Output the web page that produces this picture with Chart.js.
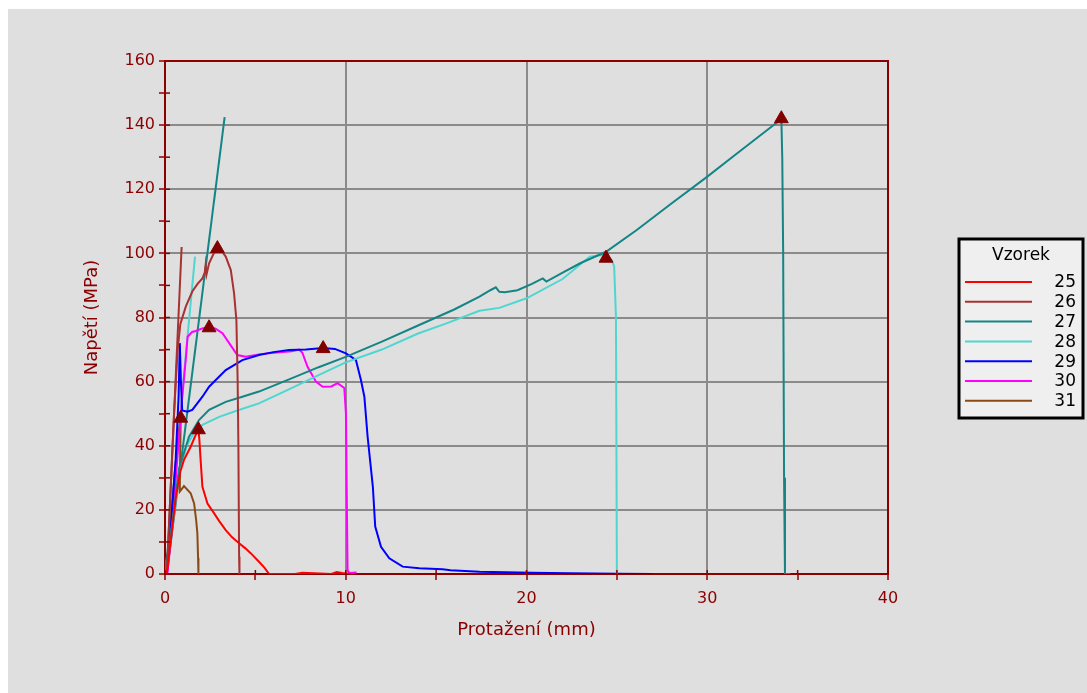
<!DOCTYPE html>
<html>
<head>
<meta charset="utf-8">
<script src="https://cdn.jsdelivr.net/npm/chart.js@4.4.1/dist/chart.umd.min.js"></script>
<style>
    body { margin: 0; background: #ffffff; }
    #wrap { position: absolute; left: 8px; top: 9px; width: 1079px; height: 684px; background: #dfdfdf; }
    canvas { display: block; }
</style>
</head>
<body>
<div id="wrap"><canvas id="chart" width="1079" height="684"></canvas></div>
<script>
// Vzorky (legenda)
const sampleNames = ['25', '26', '27', '28', '29', '30', '31'];
const sampleColors = ['#ff0000', '#a83232', '#138585', '#4fd6d0', '#0000ff', '#ff00ff', '#8b4a14'];

// Křivky: protažení (mm) / napětí (MPa)
const s25x = [0, 0.1, 0.35, 0.6, 0.85, 1.05, 1.42, 1.7, 1.85, 1.9, 1.97, 2.07, 2.35, 2.72, 3.0, 3.36, 3.7, 4.1, 4.45, 4.74, 5.2, 5.5, 5.76, 7.2, 7.6, 9.2, 9.5, 9.8, 10.3];
const s25y = [0, 0, 12, 24, 32, 35.6, 39.7, 43.4, 45, 42, 35.6, 27.2, 22, 18.9, 16.5, 13.7, 11.5, 9.6, 8, 6.5, 3.8, 2, 0, 0, 0.4, 0, 0.6, 0.3, 0];

const s26x = [0.1, 0.3, 0.5, 0.7, 0.85, 1.15, 1.51, 1.8, 2.07, 2.2, 2.25, 2.3, 2.44, 2.7, 2.9, 3.1, 3.36, 3.64, 3.82, 3.95, 4.02, 4.06, 4.1, 4.12];
const s26y = [0, 25, 50, 70, 78, 83.4, 88.1, 90.5, 92.2, 94, 96.5, 93.5, 96.9, 100, 101.5, 101, 99, 94.8, 87.6, 79.2, 60, 40, 5.4, 0];

const s27x = [0, 0.4, 0.78, 1.33, 1.88, 2.44, 3.36, 4.28, 5.2, 7, 8.5, 10, 12, 14, 16, 17.4, 18, 18.3, 18.5, 18.8, 19.5, 20.3, 20.9, 21.1, 22, 23, 24.4, 26.1, 28, 29.95, 31.5, 33.8, 34.1, 34.15, 34.2, 34.25, 34.3, 34.6];
const s27y = [0, 16, 33, 42.8, 48, 51.2, 53.7, 55.3, 56.9, 61, 64.5, 67.7, 72.5, 77.5, 82.5, 86.5, 88.5, 89.4, 88, 87.9, 88.5, 90.5, 92.2, 91.2, 94, 97, 100.5, 107.3, 115.5, 123.7, 130.5, 140.6, 142, 130, 100, 30, 0, 0];

const s28x = [0.05, 0.4, 0.8, 1.2, 1.6, 2.07, 3, 4, 5.2, 7, 8.5, 10, 12, 14, 15.5, 17.4, 18.5, 20, 22, 23.5, 24.2, 24.4, 24.7, 24.85, 24.95, 25.0];
const s28y = [0, 15, 32, 40, 44, 46.5, 49, 51, 53.2, 58, 62, 66, 70, 75, 78, 82.1, 83, 86, 92, 99, 99.5, 98.5, 98, 96, 80, 0];

const s29x = [0.04, 0.32, 0.59, 0.75, 0.82, 0.88, 0.95, 1.24, 1.51, 2.07, 2.44, 3.36, 4.28, 5.2, 6.0, 6.87, 7.8, 8.75, 9.4, 10.01, 10.56, 10.84, 11.03, 11.21, 11.5, 11.63, 11.95, 12.41, 13.15, 14.07, 15.36, 15.8, 17.4, 20.3, 22.4, 25, 27];
const s29y = [0, 14.8, 35.6, 55, 72, 60, 51, 50.6, 51.2, 55.3, 58.4, 63.6, 66.7, 68.3, 69.2, 69.9, 70, 70.5, 70.2, 68.8, 66.8, 60.5, 55.3, 42.8, 27.2, 14.8, 8.5, 4.9, 2.3, 1.8, 1.45, 1.2, 0.7, 0.4, 0.2, 0.05, 0];

const s30x = [0.13, 0.4, 0.68, 0.95, 1.15, 1.25, 1.5, 1.7, 2.07, 2.44, 2.8, 3.18, 3.55, 4.0, 4.47, 5.2, 6.0, 7.0, 7.42, 7.6, 7.88, 8.35, 8.72, 9.2, 9.55, 9.92, 10.01, 10.1, 10.2, 10.6];
const s30y = [0, 15, 36, 55, 67, 74, 75.5, 75.8, 76.6, 77, 76.5, 75.1, 72, 68.3, 67.8, 68.5, 69, 69.5, 70, 69, 64.7, 60, 58.4, 58.5, 59.5, 58, 50, 1.2, 0.3, 0.5];

const s31x = [0.05, 0.3, 0.55, 0.75, 0.87, 0.84, 0.82, 1.05, 1.42, 1.61, 1.72, 1.79, 1.83, 1.85];
const s31y = [0, 15, 32, 44, 48.6, 38, 25.7, 27.4, 25.2, 22, 17, 12.7, 5, 0];

// Přímky modulu (26, 27, 28)
const t26x = [0.1, 0.92];
const t26y = [0, 102];
const t27x = [0.1, 3.3];
const t27y = [0, 142.5];
const t28x = [0.02, 1.66];
const t28y = [0, 99];

// Maxima (trojúhelníky)
const peakX = [1.85, 2.9, 34.1, 24.4, 8.75, 2.44, 0.87];
const peakY = [45, 101.5, 142, 98.5, 70.3, 76.8, 48.6];

const axisColor = '#8b0000';
const gridColor = '#8a8a8a';
const fontFamily = "'DejaVu Sans', Verdana, sans-serif";

function zip(xs, ys) {
    return xs.map((x, i) => ({ x: x, y: ys[i] }));
}

function curve(xs, ys, color) {
    return {
        data: zip(xs, ys),
        showLine: true,
        borderColor: color,
        borderWidth: 2,
        pointRadius: 0,
        fill: false,
        tension: 0
    };
}

const seriesX = [s25x, s26x, s27x, s28x, s29x, s30x, s31x];
const seriesY = [s25y, s26y, s27y, s28y, s29y, s30y, s31y];

const datasets = [{
    data: zip(peakX, peakY),
    showLine: false,
    pointStyle: 'triangle',
    pointRadius: 8,
    backgroundColor: '#800000',
    borderColor: '#800000',
    borderWidth: 1
}];
seriesX.forEach((xs, i) => {
    const ds = curve(xs, seriesY[i], sampleColors[i]);
    ds.label = sampleNames[i];
    datasets.push(ds);
});
datasets.push(curve(t26x, t26y, sampleColors[1]));
datasets.push(curve(t27x, t27y, sampleColors[2]));
datasets.push(curve(t28x, t28y, sampleColors[3]));

// Rámeček grafu + vnitřní značky
const framePlugin = {
    id: 'frame',
    afterDatasetsDraw(chart) {
        const { ctx, chartArea: a, scales } = chart;
        ctx.save();
        ctx.strokeStyle = axisColor;
        ctx.lineWidth = 2;
        ctx.beginPath();
        ctx.moveTo(a.left, a.top);
        ctx.lineTo(a.right, a.top);
        ctx.lineTo(a.right, a.bottom);
        ctx.stroke();
        ctx.lineWidth = 1.5;
        scales.y.ticks.forEach(t => {
            const py = scales.y.getPixelForValue(t.value);
            ctx.beginPath();
            ctx.moveTo(a.left, py);
            ctx.lineTo(a.left + 5, py);
            ctx.stroke();
        });
        scales.x.ticks.forEach(t => {
            const px = scales.x.getPixelForValue(t.value);
            ctx.beginPath();
            ctx.moveTo(px, a.bottom);
            ctx.lineTo(px, a.bottom - 4);
            ctx.stroke();
        });
        ctx.restore();
    }
};

// Legenda vpravo
const legendPlugin = {
    id: 'sideLegend',
    afterDraw(chart) {
        const ctx = chart.ctx;
        const left = 951, top = 230, w = 124, h = 179;
        ctx.save();
        ctx.fillStyle = '#efefef';
        ctx.fillRect(left, top, w, h);
        ctx.strokeStyle = '#000000';
        ctx.lineWidth = 3;
        ctx.strokeRect(left, top, w, h);
        ctx.fillStyle = '#000000';
        ctx.font = '17px ' + fontFamily;
        ctx.textAlign = 'center';
        ctx.textBaseline = 'middle';
        ctx.fillText('Vzorek', left + w / 2, top + 17);
        sampleNames.forEach((name, i) => {
            const y = top + 43 + i * 19.8;
            ctx.strokeStyle = sampleColors[i];
            ctx.lineWidth = 2;
            ctx.beginPath();
            ctx.moveTo(left + 6, y);
            ctx.lineTo(left + 73, y);
            ctx.stroke();
            ctx.fillStyle = '#000000';
            ctx.textAlign = 'right';
            ctx.fillText(name, left + w - 7, y + 1);
        });
        ctx.restore();
    }
};

new Chart(document.getElementById('chart'), {
    type: 'scatter',
    data: { datasets: datasets },
    options: {
        responsive: false,
        animation: false,
        devicePixelRatio: 1,
        layout: { padding: { left: 74, top: 52, right: 199, bottom: 40 } },
        plugins: {
            legend: { display: false },
            tooltip: { enabled: false }
        },
        scales: {
            x: {
                type: 'linear',
                min: 0,
                max: 40,
                afterFit: s => { s.height = 79; },
                border: { color: axisColor, width: 2 },
                grid: {
                    lineWidth: 2,
                    color: c => (c.tick && c.tick.value % 10 === 0) ? gridColor : 'rgba(0,0,0,0)',
                    tickColor: axisColor,
                    tickLength: 6,
                    tickWidth: 1.5
                },
                ticks: {
                    stepSize: 5,
                    autoSkip: false,
                    maxRotation: 0,
                    padding: 9,
                    color: axisColor,
                    font: { family: fontFamily, size: 16 },
                    callback: v => v % 10 === 0 ? v : ''
                },
                title: {
                    display: true,
                    text: 'Protažení (mm)',
                    color: axisColor,
                    font: { family: fontFamily, size: 18 },
                    padding: { top: 0, bottom: 12 }
                }
            },
            y: {
                type: 'linear',
                min: 0,
                max: 160,
                afterFit: s => { s.width = 83; },
                border: { color: axisColor, width: 2 },
                grid: {
                    lineWidth: 2,
                    color: c => (c.tick && c.tick.value % 20 === 0) ? gridColor : 'rgba(0,0,0,0)',
                    tickColor: axisColor,
                    tickLength: 6,
                    tickWidth: 1.5
                },
                ticks: {
                    stepSize: 10,
                    autoSkip: false,
                    padding: 4,
                    color: axisColor,
                    font: { family: fontFamily, size: 16 },
                    callback: v => v % 20 === 0 ? v : ''
                },
                title: {
                    display: true,
                    text: 'Napětí (MPa)',
                    color: axisColor,
                    font: { family: fontFamily, size: 18 },
                    padding: { top: 0, bottom: 0 }
                }
            }
        }
    },
    plugins: [framePlugin, legendPlugin]
});
</script>
</body>
</html>
